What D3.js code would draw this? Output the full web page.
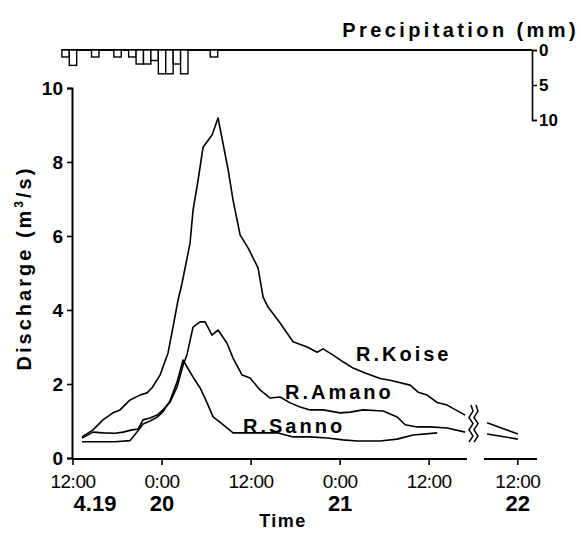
<!DOCTYPE html>
<html><head><meta charset="utf-8">
<script src="https://cdn.jsdelivr.net/npm/d3@7"></script>
<style>
html,body{margin:0;padding:0;background:#fff;}
svg{display:block;font-family:"Liberation Sans",Arial,Helvetica,sans-serif;}
</style></head><body>
<svg id="c" width="581" height="533"></svg>
<script>
// Time in hours since 4.19 0:00
const koiseT = [13.21,14.70,16.04,17.39,18.34,19.69,21.03,21.98,22.65,23.73,24.81,25.48,26.16,26.70,27.77,28.18,28.85,29.53,30.74,31.55,32.22,32.90,33.57,34.52,35.59,36.94,37.62,38.29,39.91,41.66,43.55,44.90,45.71,47.06,48.40,49.75,51.37,53.39,54.74,57.44,58.51,59.73,61.08,62.42,64.85,79.82,84.0];
const koiseQ = [0.57,0.76,1.03,1.22,1.30,1.57,1.70,1.76,1.90,2.24,2.84,3.54,4.27,4.73,5.80,6.70,7.50,8.40,8.73,9.19,8.50,7.80,6.97,6.03,5.68,5.14,4.35,4.08,3.65,3.14,3.00,2.86,2.95,2.78,2.60,2.43,2.30,2.15,2.10,1.97,1.78,1.70,1.50,1.43,1.16,0.95,0.65];
const amanoT = [13.21,14.70,16.04,17.66,18.74,19.95,20.76,21.44,22.38,23.33,24.13,25.08,26.02,26.83,27.37,28.18,29.12,29.80,30.74,31.55,32.76,33.57,34.79,35.86,37.21,38.56,39.91,41.26,42.61,43.95,45.71,48.00,49.35,51.10,53.80,55.68,56.76,58.38,60.13,62.42,64.85,79.82,84.0];
const amanoQ = [0.54,0.70,0.68,0.67,0.70,0.76,0.78,1.03,1.08,1.16,1.30,1.51,1.92,2.50,2.80,3.54,3.68,3.68,3.32,3.46,3.10,2.70,2.24,2.16,1.84,1.62,1.65,1.49,1.38,1.30,1.30,1.22,1.24,1.30,1.27,1.11,0.90,0.84,0.84,0.81,0.70,0.65,0.51];
const sannoT = [13.21,15.64,17.66,19.69,20.63,21.44,22.38,23.33,24.13,25.08,26.02,26.83,27.37,28.45,29.12,30.07,30.88,32.22,33.57,35.46,37.21,39.51,41.66,43.95,46.25,48.40,50.29,53.39,55.68,57.84,61.08];
const sannoQ = [0.44,0.44,0.44,0.47,0.70,0.92,1.00,1.10,1.25,1.55,2.05,2.65,2.46,2.10,1.90,1.49,1.11,0.90,0.68,0.68,0.68,0.68,0.57,0.57,0.54,0.49,0.46,0.46,0.51,0.62,0.68];
const seriesNames = ["R.Koise","R.Amano","R.Sanno"];
// hourly precipitation (hour centre, mm)
const precipHour = [11,12,15,18,20,21,22,23,24,25,26,27,31];
const precipMM   = [1.0,2.2,1.0,1.0,1.0,2.0,2.0,1.5,3.4,3.4,2.0,3.4,1.0];
const yTicks = [0,2,4,6,8,10];
const pTicks = [0,5,10];
const xTickHours = [12,24,36,48,60,84];
const xTickTime  = ["12:00","0:00","12:00","0:00","12:00","12:00"];
const xTickDate  = ["4.19","20","","21","","22"];

const svg = d3.select("#c");
svg.append("rect").attr("width",581).attr("height",533).attr("fill","#fff");

const breakStart = 65.1, breakEnd = 79.4;
const x = d3.scaleLinear().domain([12, breakStart, breakEnd, 86.6]).range([73, 467, 484, 537]);
const y = d3.scaleLinear().domain([0,10]).range([458,88]);
const yP = d3.scaleLinear().domain([0,10]).range([50,120]);

// Precipitation
const pg = svg.append("g");
pg.append("line").attr("x1",62).attr("x2",532).attr("y1",yP(0)).attr("y2",yP(0)).attr("stroke","#000").attr("stroke-width",2);
pg.selectAll("rect.p").data(precipHour.map((h,i)=>({h,v:precipMM[i]}))).join("rect")
  .attr("x",d=>x(d.h-0.5)).attr("width",d=>x(d.h+0.5)-x(d.h-0.5))
  .attr("y",yP(0)).attr("height",d=>yP(d.v)-yP(0))
  .attr("fill","#fff").attr("stroke","#000").attr("stroke-width",1.4);
const pAxis = svg.append("g").attr("transform","translate(532,0)")
  .call(d3.axisRight(yP).tickValues(pTicks).tickSize(5).tickPadding(2));
pAxis.select(".domain").attr("stroke-width",1.6);
pAxis.selectAll("line").attr("stroke-width",1.5);
pAxis.selectAll("text").attr("font-size",17).attr("font-weight","bold").attr("fill","#000");
svg.append("text").attr("x",579).attr("y",37).attr("text-anchor","end")
  .attr("font-size",20).attr("font-weight","bold").attr("letter-spacing",3.4).text("Precipitation (mm)");

// Y axis
const yAxis = svg.append("g").attr("transform","translate(72,0)")
  .call(d3.axisLeft(y).tickValues(yTicks).tickSize(5).tickPadding(4));
yAxis.select(".domain").attr("stroke-width",2);
yAxis.selectAll("line").attr("stroke-width",1.6);
yAxis.selectAll("text").attr("font-size",19).attr("font-weight","bold").attr("fill","#000");
const yl = svg.append("text").attr("transform","translate(31,268) rotate(-90)").attr("text-anchor","middle")
  .attr("font-size",20).attr("font-weight","bold").attr("letter-spacing",3);
yl.append("tspan").text("Discharge (m");
yl.append("tspan").attr("font-size",12).attr("dy",-8).text("3");
yl.append("tspan").attr("dy",8).text("/s)");

// X axis (broken)
const xg = svg.append("g");
xg.append("line").attr("x1",72).attr("x2",x(breakStart)).attr("y1",459).attr("y2",459).attr("stroke","#000").attr("stroke-width",2);
xg.append("line").attr("x1",x(breakEnd)).attr("x2",537).attr("y1",459).attr("y2",459).attr("stroke","#000").attr("stroke-width",2);
xTickHours.forEach((h,i)=>{
  xg.append("line").attr("x1",x(h)).attr("x2",x(h)).attr("y1",459).attr("y2",465).attr("stroke","#000").attr("stroke-width",1.6);
  xg.append("text").attr("x",x(h)).attr("y",488).attr("text-anchor","middle").attr("font-size",19).attr("letter-spacing",-0.5).text(xTickTime[i]);
  if (xTickDate[i]) xg.append("text").attr("x",x(h)+(i===0?22:0)).attr("y",511).attr("text-anchor","middle")
     .attr("font-size",22).attr("font-weight","bold").text(xTickDate[i]);
});
svg.append("text").attr("x",283).attr("y",527).attr("text-anchor","middle").attr("font-size",18).attr("font-weight","bold").attr("letter-spacing",1.5).text("Time");

// Lines
const line = d3.line().x(d=>x(d.t)).y(d=>y(d.q));
const series = [[koiseT,koiseQ],[amanoT,amanoQ],[sannoT,sannoQ]];
series.forEach(([T,Q])=>{
  const pts = T.map((t,i)=>({t,q:Q[i]}));
  const a = pts.filter(p=>p.t<breakStart), b = pts.filter(p=>p.t>breakEnd);
  [a,b].forEach(seg=>{ if(seg.length>1) svg.append("path").attr("d",line(seg)).attr("fill","none").attr("stroke","#000").attr("stroke-width",1.6).attr("stroke-linejoin","round"); });
});

// break marks
const zig = (x0)=>{ let d=`M${x0},405`; for(let k=0;k<6;k++){ d+=` L${x0+(k%2?-2:2)},${405+(k+1)*6.2}`;} return d; };
[471,476].forEach(x0=>svg.append("path").attr("d",zig(x0)).attr("fill","none").attr("stroke","#000").attr("stroke-width",1.5));

// Series labels
const labelPos = [[356,361],[285,399],[243,433]];
seriesNames.forEach((n,i)=>{
  svg.append("text").attr("x",labelPos[i][0]).attr("y",labelPos[i][1]).attr("font-size",20).attr("font-weight","bold").attr("letter-spacing",3).text(n);
});
</script></body></html>
